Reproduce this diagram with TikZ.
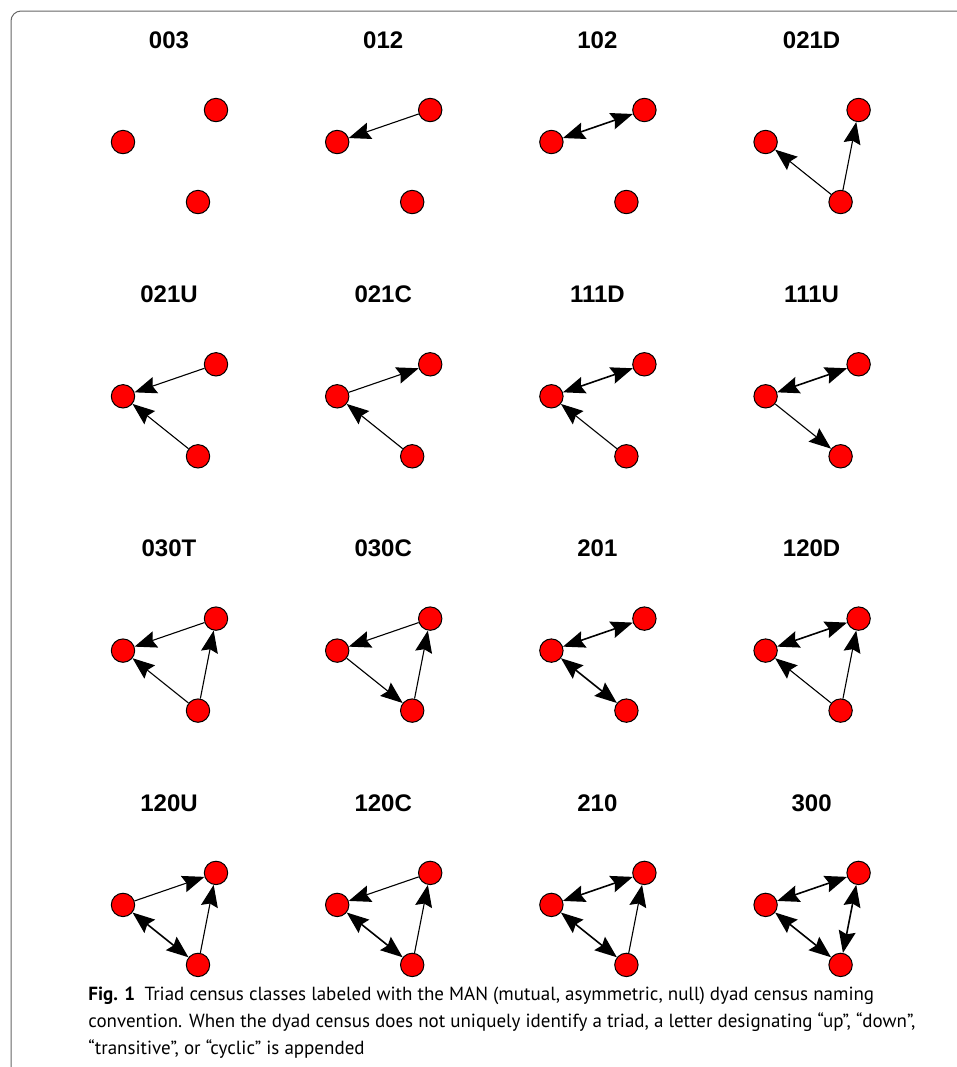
\documentclass[tikz,border=0pt]{standalone}
\usepackage{fontspec}
\setmainfont{PT Sans}
\newfontfamily\titlefont{Liberation Sans}
\usetikzlibrary{arrows.meta}

\tikzset{
  vertex/.style={circle, draw=black, fill=red, line width=0.5pt, minimum size=11.7pt, inner sep=0pt},
  tie/.style={-{Stealth[length=11pt, width=8.5pt, inset=1.5pt]}, line width=0.55pt},
  mutual/.style={{Stealth[length=11pt, width=8.5pt, inset=1.5pt]}-{Stealth[length=11pt, width=8.5pt, inset=1.5pt]}, line width=0.8pt},
  triadname/.style={font=\titlefont\bfseries\fontsize{12}{14}\selectfont, inner sep=0pt}
}

% title and the three actors of one triad class
\newcommand{\triad}[2]{%
  \node[triadname] (#1name) at (169,40) {#2};
  \node[vertex] (#1l) at (123,142) {};
  \node[vertex] (#1t) at (216,110) {};
  \node[vertex] (#1b) at (198,202) {};
}

\begin{document}
\begin{tikzpicture}[x=0.5pt, y=-0.5pt]
\useasboundingbox (0,0) rectangle (957,1067);
\draw[black!60, line width=0.5pt, rounded corners=5pt] (11,1067) -- (11,11) -- (957,11);

% row 1
\begin{scope}[shift={(0,0)}]
    \triad{a}{003}
\end{scope}
\begin{scope}[shift={(214.2,0)}]
    \triad{b}{012}
    \draw[tie] (bt) -- (bl);
\end{scope}
\begin{scope}[shift={(428.4,0)}]
    \triad{c}{102}
    \draw[mutual] (cl) -- (ct);
\end{scope}
\begin{scope}[shift={(642.6,0)}]
    \triad{d}{021D}
    \draw[tie] (db) -- (dl);
    \draw[tie] (db) -- (dt);
\end{scope}

% row 2
\begin{scope}[shift={(0,254.3)}]
    \triad{e}{021U}
    \draw[tie] (et) -- (el);
    \draw[tie] (eb) -- (el);
\end{scope}
\begin{scope}[shift={(214.2,254.3)}]
    \triad{f}{021C}
    \draw[tie] (fl) -- (ft);
    \draw[tie] (fb) -- (fl);
\end{scope}
\begin{scope}[shift={(428.4,254.3)}]
    \triad{g}{111D}
    \draw[mutual] (gl) -- (gt);
    \draw[tie] (gb) -- (gl);
\end{scope}
\begin{scope}[shift={(642.6,254.3)}]
    \triad{h}{111U}
    \draw[mutual] (hl) -- (ht);
    \draw[tie] (hl) -- (hb);
\end{scope}

% row 3
\begin{scope}[shift={(0,508.6)}]
    \triad{i}{030T}
    \draw[tie] (it) -- (il);
    \draw[tie] (ib) -- (il);
    \draw[tie] (ib) -- (it);
\end{scope}
\begin{scope}[shift={(214.2,508.6)}]
    \triad{j}{030C}
    \draw[tie] (jt) -- (jl);
    \draw[tie] (jl) -- (jb);
    \draw[tie] (jb) -- (jt);
\end{scope}
\begin{scope}[shift={(428.4,508.6)}]
    \triad{k}{201}
    \draw[mutual] (kl) -- (kt);
    \draw[mutual] (kl) -- (kb);
\end{scope}
\begin{scope}[shift={(642.6,508.6)}]
    \triad{m}{120D}
    \draw[mutual] (ml) -- (mt);
    \draw[tie] (mb) -- (ml);
    \draw[tie] (mb) -- (mt);
\end{scope}

% row 4
\begin{scope}[shift={(0,762.9)}]
    \triad{n}{120U}
    \draw[tie] (nl) -- (nt);
    \draw[mutual] (nl) -- (nb);
    \draw[tie] (nb) -- (nt);
\end{scope}
\begin{scope}[shift={(214.2,762.9)}]
    \triad{o}{120C}
    \draw[tie] (ot) -- (ol);
    \draw[mutual] (ol) -- (ob);
    \draw[tie] (ob) -- (ot);
\end{scope}
\begin{scope}[shift={(428.4,762.9)}]
    \triad{p}{210}
    \draw[mutual] (pl) -- (pt);
    \draw[mutual] (pl) -- (pb);
    \draw[tie] (pb) -- (pt);
\end{scope}
\begin{scope}[shift={(642.6,762.9)}]
    \triad{q}{300}
    \draw[mutual] (ql) -- (qt);
    \draw[mutual] (ql) -- (qb);
    \draw[mutual] (qb) -- (qt);
\end{scope}

\node[anchor=north west, align=left, inner sep=0pt, font=\fontsize{9.5}{13.5}\selectfont] (caption) at (88,987)
  {\textbf{Fig. 1}\enspace Triad census classes labeled with the MAN (mutual, asymmetric, null) dyad census naming\\
   convention. When the dyad census does not uniquely identify a triad, a letter designating “up”, “down”,\\
   “transitive”, or “cyclic” is appended};
\end{tikzpicture}
\end{document}
